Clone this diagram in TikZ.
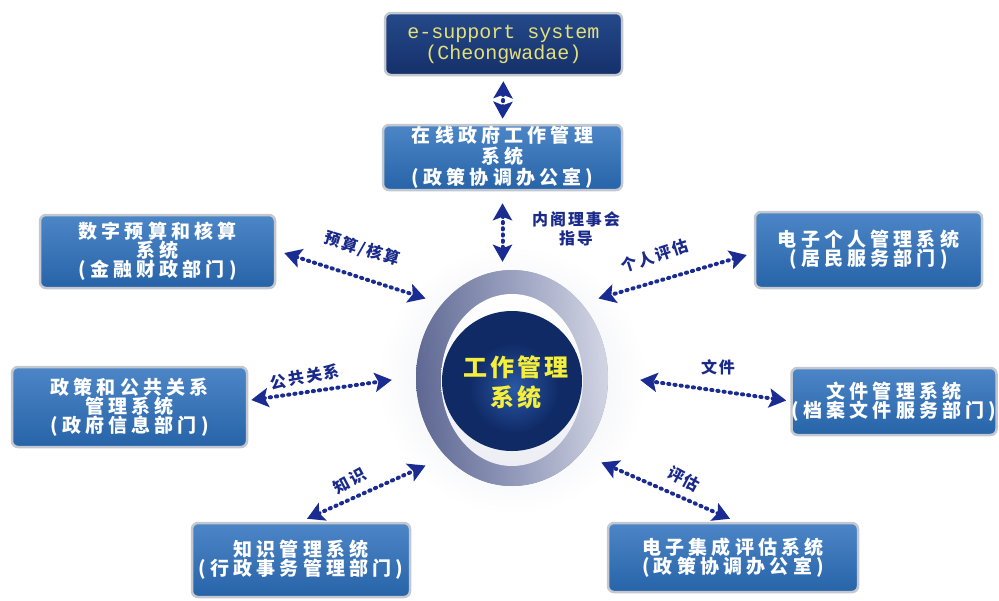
\documentclass[tikz,border=0pt]{standalone}
\usepackage{fontspec}
\usetikzlibrary{arrows.meta}
\newfontfamily\cjk[LetterSpace=22]{Noto Sans CJK SC}
\newfontfamily\cjklab[LetterSpace=12]{Noto Sans CJK SC}
\newfontfamily\monof{Liberation Mono}
\definecolor{boxtop}{HTML}{4C86C7}
\definecolor{boxbot}{HTML}{2763A8}
\definecolor{boxedge}{HTML}{C3C8D0}
\definecolor{estop}{HTML}{25498A}
\definecolor{esbot}{HTML}{15306A}
\definecolor{estext}{HTML}{E4E07A}
\definecolor{arrcol}{HTML}{1A2B92}
\definecolor{labcol}{HTML}{1A2A8A}
\definecolor{cyellow}{HTML}{F5EF3C}
\definecolor{navy}{HTML}{102A66}
\definecolor{navyglow}{HTML}{2A58A6}
\definecolor{ringdark}{HTML}{5A6490}
\definecolor{ringmid}{HTML}{9AA1C0}
\definecolor{ringlight}{HTML}{DADDEA}
\begin{document}
\begin{tikzpicture}[x=1pt,y=-1pt,
  sysbox/.style={rounded corners=6pt, draw=boxedge, line width=2.5pt,
    top color=boxtop, bottom color=boxbot, text=white, align=center,
    inner sep=0pt, font=\cjk\bfseries\fontsize{19}{19}\selectfont},
  topbox/.style={rounded corners=6pt, draw=boxedge, line width=2.5pt,
    top color=estop, bottom color=esbot, text=estext, align=center,
    inner sep=0pt, font=\monof\fontsize{20}{21}\selectfont},
  conn/.style={draw=arrcol, line width=4pt, line cap=round,
    dash pattern=on 1.2pt off 5pt,
    {Stealth[length=17pt,width=19pt,inset=3.5pt]}-{Stealth[length=17pt,width=19pt,inset=3.5pt]}},
  lab/.style={text=labcol, inner sep=0pt, font=\cjklab\bfseries\fontsize{16}{19}\selectfont, align=center}
]
\useasboundingbox (0,0) rectangle (999,600);
\fill[white] (0,0) rectangle (999,600);

% soft halo
\shade[inner color=ringlight!70!white, outer color=white] (512,380) circle [radius=135];
% central ring graphic
\shade[top color=ringdark!60!white, bottom color=ringdark] (512,378) ellipse [x radius=96, y radius=108];
\shade[left color=ringdark, right color=ringlight!80!white, middle color=ringmid, opacity=0.85] (512,378) ellipse [x radius=96, y radius=108];
\shade[top color=white, bottom color=ringlight!50!white] (512,380) ellipse [x radius=71, y radius=86];
\fill[navy] (512,381) circle [radius=70];
\shade[inner color=navyglow, outer color=navy] (514,388) circle [radius=45];

\node[circle, minimum size=240pt, inner sep=0pt] (hub) at (512,382) {};
\node[text=cyellow, align=center, inner sep=0pt, font=\cjklab\bfseries\fontsize{24}{30}\selectfont] (ctext) at (516,382) {工作管理\\系统};

% boxes
\node[topbox, minimum width=237pt, minimum height=62pt] (esup) at (503.5,44) {e-support system\\(Cheongwadae)};
\node[sysbox, minimum width=239pt, minimum height=65pt, font=\cjk\bfseries\fontsize{19}{21}\selectfont] (online) at (502.5,157.5) {在线政府工作管理\\系统\\(政策协调办公室)};
\node[sysbox, minimum width=235pt, minimum height=73pt] (budget) at (157.5,251.5) {数字预算和核算\\系统\\(金融财政部门)};
\node[sysbox, minimum width=227pt, minimum height=76pt] (personal) at (868.5,250) {电子个人管理系统\\(居民服务部门)};
\node[sysbox, minimum width=235pt, minimum height=80pt] (policy) at (129.5,407) {政策和公共关系\\管理系统\\(政府信息部门)};
\node[sysbox, minimum width=205pt, minimum height=67pt] (file) at (894,401.5) {文件管理系统\\(档案文件服务部门)};
\node[sysbox, minimum width=218pt, minimum height=74pt] (know) at (301,560) {知识管理系统\\(行政事务管理部门)};
\node[sysbox, minimum width=250pt, minimum height=69pt] (eval) at (733,557.5) {电子集成评估系统\\(政策协调办公室)};

% connectors
\draw[conn, shorten <=5pt, shorten >=5pt] (esup.south) -- (online.north);
\draw[conn, shorten <=12pt] (online.south) -- (online.south |- hub.north);
\draw[conn] ([shift={(8,1.5)}]budget.east) -- (hub.136);
\draw[conn] ([shift={(-7,5)}]personal.west) -- (hub.44);
\draw[conn] ([shift={(3,-7)}]policy.east) -- (hub.179);
\draw[conn] ([shift={(-4,-1)}]file.west) -- ([xshift=8pt]hub.1);
\draw[conn] ([shift={(6,-3)}]know.north) -- (hub.224);
\draw[conn] ([shift={(-3,-3)}]eval.north) -- (hub.318);

% labels
\node[lab] (l1) at (576,229) {内阁理事会\\指导};
\node[lab, rotate=-17] (l2) at (362,249) {预算/核算};
\node[lab, rotate=18] (l3) at (655,256) {个人评估};
\node[lab, rotate=10] (l4) at (305,377) {公共关系};
\node[lab] (l5) at (718,367) {文件};
\node[lab, rotate=28] (l6) at (350,481) {知识};
\node[lab, rotate=-28] (l7) at (684,479) {评估};
\end{tikzpicture}
\end{document}
